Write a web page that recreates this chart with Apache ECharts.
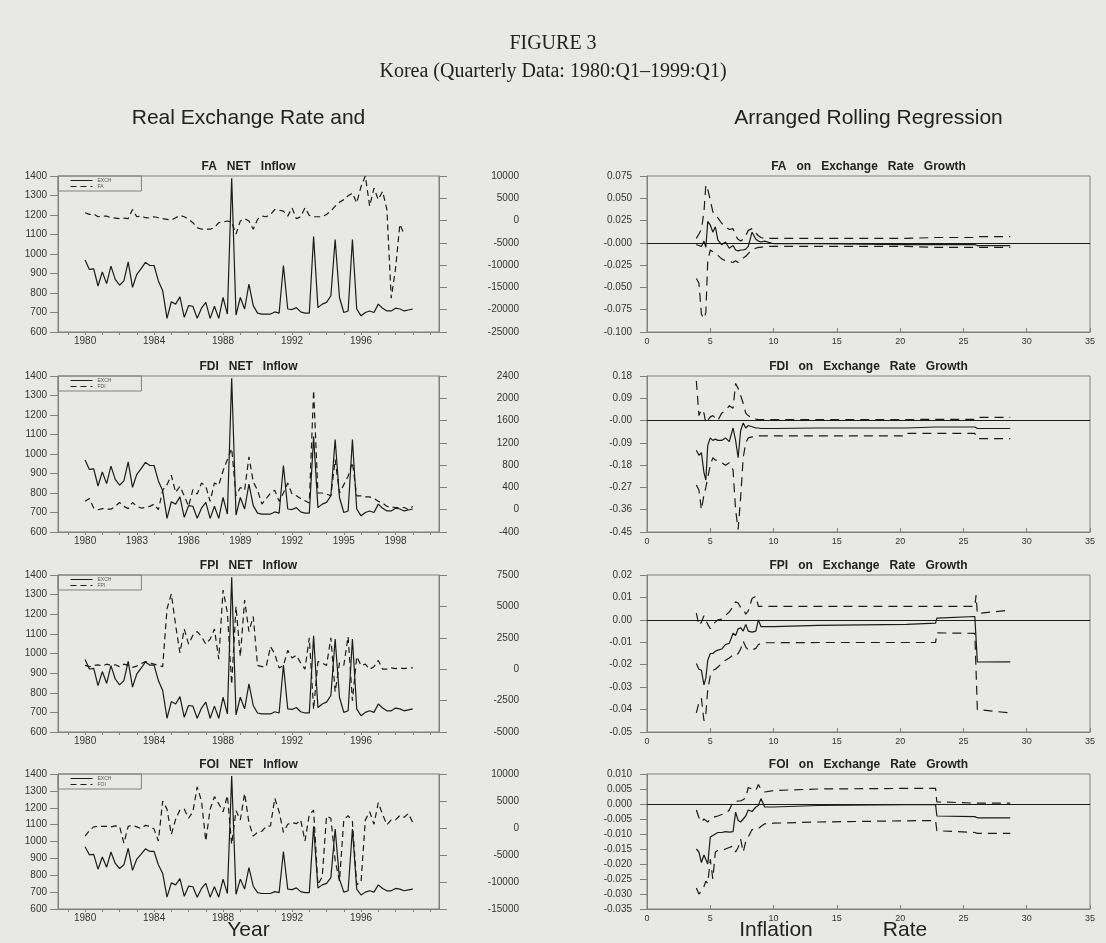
<!DOCTYPE html>
<html><head><meta charset="utf-8">
<script src="https://cdn.jsdelivr.net/npm/echarts@6/dist/echarts.min.js"></script>
<style>html,body{margin:0;padding:0;background:#e8e8e6;}#c{width:1106px;height:943px;}</style>
</head><body><div id="c"></div>
<script>
// ---------- Left panels: quarterly data 1980:Q1 onward ----------
const startYear = 1980;
const EXCH = [969,921,924,836,908,848,938,870,840,862,
 960,829,896,925,957,941,941,862,811,670,
 755,743,780,675,735,732,670,722,752,670,
 732,670,777,692,1388,687,777,718,845,735,
 697,692,692,692,703,697,941,718,715,725,
 703,697,697,1090,725,743,752,786,1074,777,
 700,708,1074,718,683,700,708,700,743,722,
 708,708,722,718,708,713,718];
const FA = [1750,1380,1500,860,1000,1000,640,560,420,560,
 420,2480,860,1000,640,560,860,640,420,270,
 120,640,1150,860,270,-470,-1570,-1940,-1940,-1940,
 -1570,-470,-320,-100,-320,-3050,-100,420,-100,-1940,
 270,1000,860,1380,2480,2330,2110,1000,2850,420,
 860,2850,1150,860,860,860,1380,2110,3220,4100,
 4700,5580,6170,3960,7640,10000,3220,7270,4700,6540,
 2480,-17400,-10800,-830,-3050];
const FDI = [150,200,30,0,20,10,10,60,130,60,
 20,130,60,30,40,60,100,0,350,450,
 620,310,420,250,60,360,280,480,420,150,
 480,440,700,900,1100,250,400,350,950,500,
 350,100,200,300,350,150,300,480,280,250,
 200,160,120,2140,300,300,280,250,900,300,
 450,600,850,250,250,230,230,200,150,120,
 60,50,40,40,40,0,60];
const FPI = [300,200,300,350,250,400,300,350,200,400,
 300,150,250,450,600,500,400,300,200,4800,
 6000,3500,1300,3200,2000,2700,3000,2600,2000,2400,
 3200,800,6300,4500,-1200,5000,1000,5500,3000,4200,
 300,200,200,1800,1200,100,300,1500,900,1100,
 500,0,2500,-3200,600,500,300,2500,-1800,500,
 300,2600,-2500,1000,300,400,0,200,700,0,
 0,100,50,100,50,100,100];
const FOI = [-1500,-500,200,300,300,300,200,400,300,-2800,
 300,500,200,-100,500,300,-200,-2400,5000,3500,
 -1200,1600,3400,3500,1800,3000,7600,5000,-2400,3500,
 5800,4500,3000,6000,-3000,3200,1500,6400,1000,-1500,
 -800,-600,300,400,5500,3000,-800,700,1000,800,
 1500,-2400,2500,3300,-10500,-9000,2200,1800,-6000,-9800,
 1500,2300,1200,-10500,-10000,1500,3000,700,4700,2500,
 600,1500,1500,2300,2000,2700,1000];

const yearLabels4 = [1980,1984,1988,1992,1996];
const yearLabels3 = [1980,1983,1986,1989,1992,1995,1998];
const yearTicks = [1979,1980,1981,1982,1983,1984,1985,1986,1987,1988,1989,1990,1991,1992,1993,1994,1995,1996,1997,1998,1999,2000];

// ---------- Right panels: arranged by inflation rate ----------
const inflation = [3.9,4.1,4.3,4.5,4.65,4.8,5.0,5.2,5.4,5.6,
 5.9,6.2,6.5,6.8,7.0,7.2,7.4,7.6,7.8,8.0,
 8.3,8.6,8.8,9.0,9.3,10.0,13.5,20.5,20.6,22.8,
 22.9,25.9,26.0,26.1,28.7];
const faCoef = [-0.002,-0.003,-0.004,0.002,-0.005,0.024,0.020,0.012,0.018,0.003,
 -0.002,0.001,-0.006,-0.003,-0.008,-0.009,-0.008,-0.008,-0.007,-0.004,
 0.012,0.004,0.002,0.001,0.002,-0.001,-0.001,-0.002,-0.002,-0.002,
 -0.002,-0.002,-0.003,-0.003,-0.003];
const faUpper = [0.005,0.010,0.015,0.035,0.065,0.060,0.048,0.035,0.030,0.028,
 0.022,0.018,0.015,0.016,0.008,0.004,0.002,0.004,0.008,0.014,
 0.016,0.011,0.008,0.006,0.005,0.005,0.005,0.005,0.006,0.006,
 0.006,0.006,0.007,0.007,0.007];
const faLower = [-0.040,-0.045,-0.080,-0.085,-0.078,-0.020,-0.008,-0.010,-0.012,-0.014,
 -0.018,-0.020,-0.021,-0.022,-0.020,-0.022,-0.019,-0.017,-0.015,-0.012,
 -0.008,-0.006,-0.005,-0.005,-0.004,-0.004,-0.004,-0.004,-0.005,-0.005,
 -0.005,-0.005,-0.005,-0.005,-0.005];
const fdiCoef = [-0.12,-0.14,-0.13,-0.21,-0.24,-0.10,-0.07,-0.08,-0.075,-0.08,
 -0.08,-0.07,-0.085,-0.03,-0.08,-0.15,-0.04,-0.01,-0.03,-0.02,
 -0.025,-0.03,-0.03,-0.032,-0.032,-0.032,-0.03,-0.03,-0.026,-0.026,
 -0.026,-0.026,-0.026,-0.032,-0.032];
const fdiUpper = [0.16,0.02,0.045,0.03,-0.01,-0.01,0.015,0.02,0.01,0.0,
 0.03,0.04,0.06,0.05,0.15,0.13,0.10,0.07,0.03,0.02,
 0.01,0.006,0.004,0.004,0.004,0.004,0.004,0.004,0.005,0.005,
 0.005,0.005,0.005,0.013,0.013];
const fdiLower = [-0.26,-0.28,-0.36,-0.30,-0.27,-0.23,-0.18,-0.15,-0.16,-0.16,
 -0.17,-0.18,-0.17,-0.20,-0.36,-0.44,-0.31,-0.15,-0.09,-0.07,
 -0.066,-0.065,-0.062,-0.062,-0.062,-0.062,-0.062,-0.062,-0.052,-0.052,
 -0.052,-0.052,-0.05,-0.073,-0.073];
const fpiCoef = [-0.0195,-0.022,-0.0225,-0.029,-0.026,-0.018,-0.015,-0.015,-0.014,-0.0135,
 -0.013,-0.011,-0.0105,-0.006,-0.007,-0.004,-0.0035,-0.005,-0.002,-0.005,
 -0.0055,-0.005,0.0,-0.003,-0.003,-0.003,-0.0025,-0.002,-0.002,-0.0015,
 0.0008,0.0015,0.0015,-0.0188,-0.0187];
const fpiUpper = [0.003,-0.0025,-0.001,0.0018,0.002,-0.002,-0.004,-0.002,-0.001,0.0,
 0.0003,0.002,0.0035,0.006,0.008,0.0075,0.0055,0.005,0.0025,0.004,
 0.0095,0.0105,0.006,0.006,0.006,0.006,0.006,0.006,0.006,0.006,
 0.006,0.006,0.011,0.0028,0.0044];
const fpiLower = [-0.0415,-0.037,-0.035,-0.045,-0.042,-0.031,-0.025,-0.0225,-0.022,-0.021,
 -0.0195,-0.018,-0.017,-0.0157,-0.016,-0.015,-0.013,-0.0095,-0.012,-0.0134,
 -0.0134,-0.0127,-0.011,-0.0105,-0.0102,-0.0102,-0.0101,-0.0101,-0.0101,-0.0101,
 -0.0058,-0.006,-0.006,-0.04,-0.0415];
const foiCoef = [-0.015,-0.016,-0.0195,-0.017,-0.0175,-0.020,-0.011,-0.0105,-0.010,-0.0095,
 -0.0095,-0.0092,-0.0094,-0.0092,-0.0027,-0.0055,-0.006,-0.005,-0.004,-0.002,
 -0.0025,-0.001,-0.0005,0.0018,-0.001,-0.001,-0.0005,-0.0002,-0.0002,-0.0002,
 -0.004,-0.0042,-0.0042,-0.0046,-0.0046];
const foiUpper = [-0.002,-0.0045,-0.006,-0.005,-0.0052,-0.006,-0.005,-0.0045,-0.0042,-0.004,
 -0.0035,-0.0033,-0.002,0.0007,0.0008,0.001,0.001,0.0015,0.002,0.0055,
 0.005,0.0045,0.0065,0.005,0.004,0.0045,0.005,0.0052,0.0052,0.0052,
 0.0007,0.0003,0.0003,0.0003,0.0003];
const foiLower = [-0.028,-0.030,-0.029,-0.0275,-0.0257,-0.0265,-0.0184,-0.025,-0.016,-0.0155,
 -0.0155,-0.015,-0.0145,-0.014,-0.016,-0.0145,-0.0117,-0.016,-0.0125,-0.011,
 -0.0085,-0.0087,-0.0082,-0.0075,-0.0066,-0.0064,-0.006,-0.0056,-0.0055,-0.0055,
 -0.0089,-0.0095,-0.0095,-0.0098,-0.0098];

// ---------- layout / styles ----------
const INK = '#1b1b1b', AX = '#808080', TXT = '#333';
const SANS = 'Liberation Sans, Arial, sans-serif', SERIF = 'Liberation Serif, Times New Roman, serif';
const tops = [176, 376, 575, 774], heights = [156, 156, 157, 135];
const LL = 58, LW = 381, RL = 647, RW = 443;

const leftPanels = [
  {name:'FA', title:'FA   NET   Inflow', data:FA, min:-25000, max:10000, step:5000, labels:yearLabels4},
  {name:'FDI', title:'FDI   NET   Inflow', data:FDI, min:-400, max:2400, step:400, labels:yearLabels3},
  {name:'FPI', title:'FPI   NET   Inflow', data:FPI, min:-5000, max:7500, step:2500, labels:yearLabels4},
  {name:'FOI', title:'FOI   NET   Inflow', data:FOI, min:-15000, max:10000, step:5000, labels:yearLabels4}
];
const rightPanels = [
  {title:'FA   on   Exchange   Rate   Growth', c:faCoef, u:faUpper, l:faLower, min:-0.1, max:0.075, step:0.025, dec:3, zero:'-0.000'},
  {title:'FDI   on   Exchange   Rate   Growth', c:fdiCoef, u:fdiUpper, l:fdiLower, min:-0.45, max:0.18, step:0.09, dec:2, zero:'-0.00'},
  {title:'FPI   on   Exchange   Rate   Growth', c:fpiCoef, u:fpiUpper, l:fpiLower, min:-0.05, max:0.02, step:0.01, dec:2, zero:'0.00'},
  {title:'FOI   on   Exchange   Rate   Growth', c:foiCoef, u:foiUpper, l:foiLower, min:-0.035, max:0.01, step:0.005, dec:3, zero:'0.000'}
];

const grid = [], xAxis = [], yAxis = [], series = [], legend = [], title = [];
const axisFont = {fontFamily:SANS, fontSize:10, color:TXT};
const plain = v => String(v);
function txt(text, x, y, size, opts) {
  title.push(Object.assign({text:text, left:x, top:y, textAlign:'center', padding:0,
    textStyle:{fontFamily:SANS, fontSize:size, fontWeight:'normal', color:'#222'}}, opts||{}));
}
txt('FIGURE 3', 553, 34, 20, {textStyle:{fontFamily:SERIF, fontSize:20, fontWeight:'normal', color:'#222'}});
txt('Korea (Quarterly Data: 1980:Q1\u20131999:Q1)', 553, 62, 20, {textStyle:{fontFamily:SERIF, fontSize:20, fontWeight:'normal', color:'#222'}});
txt('Real Exchange Rate and', LL + LW/2, 108, 21);
txt('Arranged Rolling Regression', RL + RW/2, 108, 21);
txt('Year', LL + LW/2, 920, 21);
txt('Inflation', 776, 920, 21);
txt('Rate', 905, 920, 21);

leftPanels.forEach((p, k) => {
  grid.push({left:LL, top:tops[k], width:LW, height:heights[k], show:true, borderColor:AX, borderWidth:1});
  txt(p.title, LL + LW/2, tops[k]-15, 12, {textStyle:{fontFamily:SANS, fontSize:12, fontWeight:'bold', color:'#222'}});
  xAxis.push({type:'value', gridIndex:k, min:1978.43, max:2000.52,
    axisLine:{onZero:false, lineStyle:{color:AX}}, splitLine:{show:false},
    axisTick:{customValues:yearTicks, length:3, lineStyle:{color:AX}},
    axisLabel:Object.assign({customValues:p.labels, margin:4, formatter:plain}, axisFont)});
  yAxis.push({type:'value', gridIndex:k, position:'left', min:600, max:1400, interval:100,
    axisLine:{show:true, onZero:false, lineStyle:{color:AX}}, splitLine:{show:false},
    axisTick:{show:true, length:8, lineStyle:{color:AX}},
    axisLabel:Object.assign({margin:11, formatter:plain}, axisFont)});
  series.push({name:'EXCH', type:'line', xAxisIndex:k, yAxisIndex:k, symbol:'none', silent:true,
    data:EXCH.map((v, i) => [startYear + i/4, v]), lineStyle:{color:INK, width:1.2}, itemStyle:{color:INK}});
  series.push({name:p.name, type:'line', xAxisIndex:k, yAxisIndex:4+k, symbol:'none', silent:true,
    data:p.data.map((v, i) => [startYear + i/4, v]), lineStyle:{color:INK, width:1.2, type:[6,4]}, itemStyle:{color:INK}});
  legend.push({data:['EXCH', p.name], left:LL, top:tops[k], orient:'vertical', itemWidth:22, itemHeight:6, itemGap:1,
    padding:[2,30,2,12], borderColor:AX, borderWidth:1, selectedMode:false,
    itemStyle:{opacity:0}, lineStyle:{width:1},
    textStyle:{fontFamily:SANS, fontSize:5, color:'#555'}});
});
leftPanels.forEach((p, k) => {
  yAxis.push({type:'value', gridIndex:k, position:'right', min:p.min, max:p.max, interval:p.step,
    axisLine:{show:true, onZero:false, lineStyle:{color:AX}}, splitLine:{show:false},
    axisTick:{show:true, length:8, lineStyle:{color:AX}},
    axisLabel:Object.assign({margin:80, align:'right', formatter:plain}, axisFont)});
});
rightPanels.forEach((p, k) => {
  const g = 4 + k;
  grid.push({left:RL, top:tops[k], width:RW, height:heights[k], show:true, borderColor:AX, borderWidth:1});
  txt(p.title, RL + RW/2, tops[k]-15, 12, {textStyle:{fontFamily:SANS, fontSize:12, fontWeight:'bold', color:'#222'}});
  xAxis.push({type:'value', gridIndex:g, min:0, max:35, interval:5,
    axisLine:{onZero:false, lineStyle:{color:AX}}, splitLine:{show:false},
    axisTick:{inside:true, length:4, lineStyle:{color:AX}},
    axisLabel:Object.assign({margin:5, formatter:plain}, axisFont, {fontSize:9})});
  yAxis.push({type:'value', gridIndex:g, min:p.min, max:p.max, interval:p.step,
    axisLine:{show:true, onZero:false, lineStyle:{color:AX}}, splitLine:{show:false},
    axisTick:{show:true, length:7, lineStyle:{color:AX}},
    axisLabel:Object.assign({margin:15, formatter:v => Math.abs(v) < 1e-9 ? p.zero : v.toFixed(p.dec)}, axisFont)});
  const mk = arr => arr.map((v, i) => [inflation[i], v]);
  series.push({type:'line', xAxisIndex:g, yAxisIndex:8+k, symbol:'none', silent:true, data:mk(p.c),
    lineStyle:{color:INK, width:1.2},
    markLine:{silent:true, symbol:['none','none'], label:{show:false}, animation:false,
      lineStyle:{color:INK, type:'solid', width:1}, data:[{yAxis:0}]}});
  series.push({type:'line', xAxisIndex:g, yAxisIndex:8+k, symbol:'none', silent:true, data:mk(p.u),
    lineStyle:{color:INK, width:1.2, type:[9,6]}});
  series.push({type:'line', xAxisIndex:g, yAxisIndex:8+k, symbol:'none', silent:true, data:mk(p.l),
    lineStyle:{color:INK, width:1.2, type:[9,6]}});
});

const chart = echarts.init(document.getElementById('c'), null, {renderer:'canvas'});
chart.setOption({backgroundColor:'#e8e8e6', animation:false, title, legend, grid, xAxis, yAxis, series});
</script></body></html>
